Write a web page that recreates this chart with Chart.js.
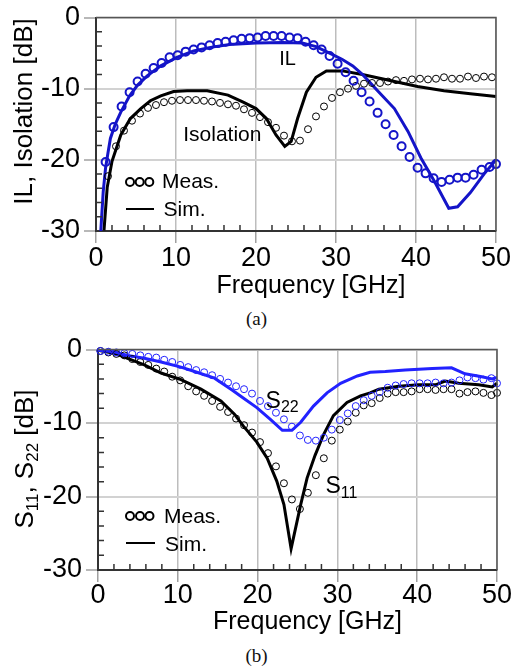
<!DOCTYPE html>
<html lang="en">
<head>
<meta charset="UTF-8">
<title>IL / Isolation and S11 / S22</title>
<style>
    body { margin: 0; background: #fff; width: 513px; height: 671px; position: relative; overflow: hidden; }
    canvas { position: absolute; left: 0; }
    #chart-a { top: 0; }
    #chart-b { top: 332px; }
    .caption { position: absolute; left: 0; width: 513px; text-align: center;
               font-family: 'Liberation Serif', 'Times New Roman', serif; font-size: 19px; line-height: 19px; color: #111; }
</style>
</head>
<body>
<canvas id="chart-a" width="513" height="300"></canvas>
<div class="caption" style="top:309px">(a)</div>
<canvas id="chart-b" width="513" height="308"></canvas>
<div class="caption" style="top:646px">(b)</div>

<script src="https://cdn.jsdelivr.net/npm/chart.js"></script>
<script>
// ---- data: (a) insertion loss / isolation ----
var ilMeasFreq = [1.2, 2.2, 3.2, 4.2, 5.2, 6.2, 7.2, 8.2, 9.2, 10.2, 11.2, 12.2, 13.2, 14.2, 15.2, 16.2, 17.2,
    18.2, 19.2, 20.2, 21.2, 22.2, 23.2, 24.2, 25.2, 26.2, 27.2, 28.2, 29.2, 30.2, 31.2, 32.2, 33.2, 34.2, 35.2,
    36.2, 37.2, 38.2, 39.2, 40.2, 41.2, 42.2, 43.2, 44.2, 45.2, 46.2, 47.2, 48.2, 49.2, 50];
var ilMeas = [-20.3, -15.4, -12.5, -10.5, -9.0, -7.9, -7.1, -6.4, -5.6, -5.3, -4.8, -4.5, -4.2, -3.9, -3.6, -3.4,
    -3.2, -3.0, -2.9, -2.8, -2.6, -2.6, -2.6, -2.8, -2.9, -3.4, -3.9, -4.5, -5.4, -6.5, -7.7, -8.9, -10.5, -11.8,
    -13.4, -15.0, -16.5, -18.1, -19.6, -21.1, -21.9, -22.6, -23.1, -22.8, -22.5, -22.5, -22.1, -21.4, -21.0, -20.6];

var isoMeasFreq = [1.5, 2.5, 3.5, 4.5, 5.5, 6.5, 7.5, 8.5, 9.5, 10.5, 11.5, 12.5, 13.5, 14.5, 15.5, 16.5, 17.5,
    18.5, 19.5, 20.5, 21.5, 22.5, 23.5, 24.5, 25.5, 26.5, 27.5, 28.5, 29.5, 30.5, 31.5, 32.5, 33.5, 34.5, 35.5,
    36.5, 37.5, 38.5, 39.5, 40.5, 41.5, 42.5, 43.5, 44.5, 45.5, 46.5, 47.5, 48.5, 49.5];
var isoMeas = [-22.3, -18.1, -15.9, -14.5, -13.5, -12.7, -12.3, -11.9, -11.7, -11.6, -11.6, -11.6, -11.7, -11.8,
    -12.0, -12.2, -12.4, -12.9, -13.4, -14.0, -14.7, -15.5, -16.6, -17.4, -17.3, -15.7, -13.9, -12.5, -11.3, -10.5,
    -10.0, -9.6, -9.3, -9.2, -9.2, -9.0, -8.8, -8.9, -8.7, -8.6, -8.7, -8.6, -8.4, -8.6, -8.6, -8.3, -8.5, -8.3, -8.4];

var ilSimFreq = [0.6, 0.9, 1.2, 1.5, 1.8, 2.4, 3.1, 4.2, 5.2, 6.4, 8.1, 10.1, 12.2, 14.3, 16.7, 20.0, 23.4, 25.9,
    27.5, 29.2, 30.8, 32.1, 33.4, 35.2, 37.3, 39.0, 40.6, 42.3, 44.1, 45.2, 46.8, 48.5, 50];
var ilSim = [-30, -24.5, -21.1, -19.0, -17.0, -15.0, -13.3, -11.0, -9.5, -8.2, -6.8, -5.6, -4.7, -4.2, -3.8, -3.6,
    -3.5, -3.6, -4.1, -5.0, -5.9, -6.8, -8.1, -10.3, -12.8, -16.0, -19.7, -23.0, -26.8, -26.6, -24.6, -22.0, -20.0];

var isoSimFreq = [1.0, 1.4, 2.0, 3.1, 4.3, 5.6, 6.8, 8.1, 9.7, 11.4, 13.9, 16.5, 18.4, 20.0, 21.3, 22.5, 23.6,
    24.4, 25.2, 26.3, 27.5, 28.8, 30.8, 33.3, 36.9, 40.2, 43.5, 46.8, 50];
var isoSim = [-29.9, -23.9, -20.2, -16.5, -14.2, -12.8, -11.7, -11.0, -10.4, -10.3, -10.3, -10.9, -11.9, -12.8,
    -14.2, -16.5, -18.1, -17.4, -14.2, -10.5, -8.4, -7.5, -7.5, -8.0, -8.9, -9.7, -10.3, -10.7, -11.1];

// ---- data: (b) S11 / S22 ----
var sMeasFreq = [0.3, 1.3, 2.3, 3.3, 4.3, 5.3, 6.3, 7.3, 8.3, 9.3, 10.3, 11.3, 12.3, 13.3, 14.3, 15.3, 16.3,
    17.3, 18.3, 19.3, 20.3, 21.3, 22.3, 23.3, 24.3, 25.3, 26.3, 27.3, 28.3, 29.3, 30.3, 31.3, 32.3, 33.3, 34.3,
    35.3, 36.3, 37.3, 38.3, 39.3, 40.3, 41.3, 42.3, 43.3, 44.3, 45.3, 46.3, 47.3, 48.3, 49.3, 50];
var s22Meas = [-0.2, -0.3, -0.4, -0.5, -0.6, -0.8, -1.0, -1.1, -1.4, -1.7, -2.1, -2.4, -2.8, -3.1, -3.5, -4.0,
    -4.5, -5.0, -5.4, -6.0, -7.0, -7.7, -8.6, -9.5, -10.5, -11.7, -12.3, -12.4, -12.0, -10.9, -9.6, -8.7, -7.7,
    -6.9, -6.3, -5.8, -5.2, -4.9, -4.7, -4.6, -4.6, -4.6, -4.5, -4.6, -4.5, -4.2, -3.8, -3.9, -4.1, -3.9, -4.6];
var s11Meas = [-0.2, -0.4, -0.6, -0.8, -1.3, -1.7, -2.1, -2.6, -3.0, -3.7, -4.2, -5.0, -5.7, -6.3, -7.0, -7.8,
    -8.5, -9.4, -10.3, -11.3, -12.6, -14.1, -15.9, -18.2, -20.4, -21.7, -19.5, -17.1, -14.8, -12.4, -10.9, -9.8,
    -8.6, -7.6, -7.3, -6.6, -6.0, -5.8, -5.8, -5.7, -5.4, -5.4, -5.5, -5.4, -5.4, -6.0, -5.8, -5.7, -5.9, -6.2, -5.9];

var s22SimFreq = [0, 2.0, 3.7, 5.8, 7.9, 10.4, 12.1, 14.6, 16.8, 18.2, 19.9, 21.6, 23.1, 24.3, 25.4, 27.0, 28.7,
    30.4, 32.5, 34.1, 36.0, 38.5, 41.9, 44.3, 46.0, 48.1, 49.4, 50];
var s22Sim = [-0.1, -0.3, -0.8, -1.2, -1.7, -2.4, -3.0, -3.9, -5.5, -6.6, -7.9, -9.5, -11.0, -11.0, -9.9, -7.7,
    -5.9, -4.6, -3.6, -3.1, -3.0, -2.8, -2.6, -2.5, -3.3, -3.7, -4.0, -3.8];

var s11SimFreq = [0, 2.0, 3.7, 5.8, 7.9, 10.4, 12.9, 15.4, 17.1, 18.2, 19.9, 21.2, 22.4, 23.3, 24.2, 25.4, 26.2,
    27.2, 28.3, 29.5, 31.2, 32.9, 34.1, 35.2, 37.7, 40.2, 42.3, 43.5, 45.2, 47.7, 49.4, 50];
var s11Sim = [-0.1, -0.5, -1.2, -2.1, -3.2, -4.1, -5.4, -7.0, -8.8, -10.4, -12.6, -14.8, -17.9, -21.1, -27.1,
    -21.1, -17.5, -14.4, -11.5, -9.0, -7.2, -6.3, -5.9, -5.4, -5.0, -4.8, -4.8, -4.3, -4.6, -4.8, -5.1, -4.6];

// ---- axis ticks ----
var freqTicks = [0, 10, 20, 30, 40, 50];
var dbTicks = [0, -10, -20, -30];

var FONT = "'Liberation Sans', Arial, Helvetica, sans-serif";

function pts(xs, ys) {
    return xs.map(function (x, i) { return { x: x, y: ys[i] }; });
}

function meas(data, color, radius, width) {
    return { data: data, borderColor: color, backgroundColor: 'rgba(0,0,0,0)', pointRadius: radius,
             pointBorderWidth: width, showLine: false, clip: false };
}

function sim(data, color) {
    return { data: data, borderColor: color, borderWidth: 3, pointRadius: 0, showLine: true, tension: 0, clip: false };
}

// draw text made of runs [text, size, dy], dy lowers a run (subscripts)
function drawRuns(ctx, runs, x, y, angle, align) {
    ctx.save();
    ctx.translate(x, y);
    ctx.rotate(angle || 0);
    var total = 0;
    runs.forEach(function (r) { ctx.font = r[1] + 'px ' + FONT; total += ctx.measureText(r[0]).width; });
    var cx = align === 'center' ? -total / 2 : 0;
    ctx.textAlign = 'left';
    ctx.textBaseline = 'alphabetic';
    ctx.fillStyle = '#000';
    runs.forEach(function (r) {
        ctx.font = r[1] + 'px ' + FONT;
        ctx.fillText(r[0], cx, r[2] || 0);
        cx += ctx.measureText(r[0]).width;
    });
    ctx.restore();
}

// frame, inner minor ticks, axis titles, labels and legend
var decor = {
    id: 'decor',
    afterDatasetsDraw: function (chart, args, o) {
        var ctx = chart.ctx, a = chart.chartArea, xs = chart.scales.x, ys = chart.scales.y;
        ctx.save();
        ctx.strokeStyle = '#555';
        ctx.lineWidth = 1.5;
        ctx.beginPath();
        ctx.moveTo(a.left, a.top);
        ctx.lineTo(a.right, a.top);
        ctx.lineTo(a.right, a.bottom);
        ctx.stroke();

        ctx.strokeStyle = '#333';
        ctx.lineWidth = 1.5;
        ctx.beginPath();
        for (var f = 2; f < 50; f += 2) {
            if (f % 10 === 0) continue;
            var px = xs.getPixelForValue(f);
            ctx.moveTo(px, a.bottom);
            ctx.lineTo(px, a.bottom - 6);
        }
        for (var d = -2; d > -30; d -= 2) {
            if (d % 10 === 0) continue;
            var py = ys.getPixelForValue(d);
            ctx.moveTo(a.left, py);
            ctx.lineTo(a.left + 6, py);
        }
        ctx.stroke();
        ctx.restore();
    },
    afterDraw: function (chart, args, o) {
        var ctx = chart.ctx, xs = chart.scales.x, ys = chart.scales.y;
        drawRuns(ctx, [[o.xTitle, 25]], o.xTitlePos[0], o.xTitlePos[1], 0, 'center');
        drawRuns(ctx, o.yTitle, o.yTitlePos[0], o.yTitlePos[1], -Math.PI / 2, 'center');
        o.labels.forEach(function (l) {
            drawRuns(ctx, l.runs, xs.getPixelForValue(l.at[0]), ys.getPixelForValue(l.at[1]), 0, 'left');
        });

        var lg = o.legend;
        ctx.save();
        ctx.strokeStyle = '#000';
        ctx.lineWidth = 2;
        lg.dots.forEach(function (cx) {
            ctx.beginPath();
            ctx.arc(cx, lg.dotY, 4, 0, 2 * Math.PI);
            ctx.stroke();
        });
        ctx.beginPath();
        ctx.moveTo(lg.line[0], lg.line[2]);
        ctx.lineTo(lg.line[1], lg.line[2]);
        ctx.stroke();
        ctx.restore();
        drawRuns(ctx, [['Meas.', 21]], lg.meas[0], lg.meas[1], 0, 'left');
        drawRuns(ctx, [['Sim.', 21]], lg.sim[0], lg.sim[1], 0, 'left');
    }
};

function makeScales(yWidth, xHeight, xPad) {
    var tickFont = { family: FONT, size: 27, lineHeight: 1 };
    return {
        x: {
            type: 'linear', min: 0, max: 50,
            afterBuildTicks: function (s) { s.ticks = freqTicks.map(function (v) { return { value: v }; }); },
            afterFit: function (s) { s.height = xHeight; },
            grid: { color: '#bdbdbd', lineWidth: 1.5, tickLength: 12, tickColor: '#a0a0a0', tickWidth: 1.5 },
            border: { color: '#333', width: 2 },
            ticks: { color: '#000', font: tickFont, padding: xPad, maxRotation: 0, autoSkip: false }
        },
        y: {
            type: 'linear', min: -30, max: 0,
            afterBuildTicks: function (s) { s.ticks = dbTicks.map(function (v) { return { value: v }; }); },
            afterFit: function (s) { s.width = yWidth; },
            grid: { color: '#d2d2d2', lineWidth: 2, tickLength: 12, tickColor: '#a0a0a0', tickWidth: 1.5 },
            border: { color: '#333', width: 2 },
            ticks: { color: '#000', font: tickFont, padding: 4, autoSkip: false }
        }
    };
}

var blueA = '#1414c8';
var blueB = '#2222ff';

new Chart(document.getElementById('chart-a'), {
    type: 'scatter',
    data: {
        datasets: [
            meas(pts(ilMeasFreq, ilMeas), blueA, 4, 2),
            meas(pts(isoMeasFreq, isoMeas), '#000', 3.5, 1),
            sim(pts(ilSimFreq, ilSim), blueA),
            sim(pts(isoSimFreq, isoSim), '#000')
        ]
    },
    options: {
        responsive: false,
        animation: false,
        events: [],
        layout: { padding: { top: 14, right: 16, left: 0, bottom: 0 } },
        scales: makeScales(96, 69, 2),
        plugins: {
            legend: { display: false },
            tooltip: { enabled: false },
            decor: {
                xTitle: 'Frequency [GHz]', xTitlePos: [311, 293],
                yTitle: [['IL, Isolation [dB]', 26]], yTitlePos: [31.5, 111.5],
                labels: [
                    { runs: [['IL', 20]], at: [22.9, -6.7] },
                    { runs: [['Isolation', 21]], at: [10.9, -17.4] }
                ],
                legend: { dots: [130, 139.7, 149.3], dotY: 182, line: [126, 154, 209],
                          meas: [162, 188], sim: [163.5, 215.5] }
            }
        }
    },
    plugins: [decor]
});

new Chart(document.getElementById('chart-b'), {
    type: 'scatter',
    data: {
        datasets: [
            meas(pts(sMeasFreq, s22Meas), blueB, 3.5, 1),
            meas(pts(sMeasFreq, s11Meas), '#000', 3.5, 1),
            sim(pts(s22SimFreq, s22Sim), blueB),
            sim(pts(s11SimFreq, s11Sim), '#000')
        ]
    },
    options: {
        responsive: false,
        animation: false,
        events: [],
        layout: { padding: { top: 14, right: 16, left: 0, bottom: 0 } },
        scales: makeScales(98, 70, 0),
        plugins: {
            legend: { display: false },
            tooltip: { enabled: false },
            decor: {
                xTitle: 'Frequency [GHz]', xTitlePos: [307.5, 297],
                yTitle: [['S', 26], ['11', 17, 5], [', S', 26], ['22', 17, 5], [' [dB]', 26]], yTitlePos: [33, 127],
                labels: [
                    { runs: [['S', 23], ['22', 16, 4]], at: [21.0, -7.9] },
                    { runs: [['S', 23], ['11', 16, 5]], at: [28.5, -19.5] }
                ],
                legend: { dots: [130, 140, 149.5], dotY: 184, line: [126, 155, 211],
                          meas: [164, 191], sim: [165, 219] }
            }
        }
    },
    plugins: [decor]
});
</script>
</body>
</html>
